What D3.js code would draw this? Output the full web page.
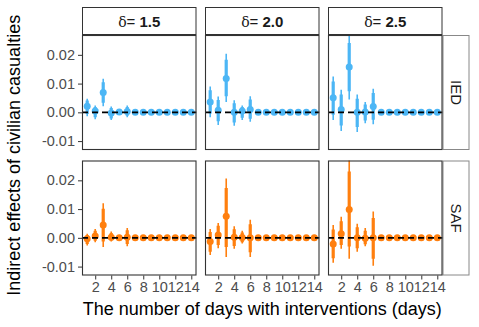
<!DOCTYPE html>
<html><head><meta charset="utf-8">
<script src="https://cdn.jsdelivr.net/npm/d3@7"></script>
<style>body{margin:0;background:#fff}svg{display:block;font-family:"Liberation Sans",Arial,sans-serif}</style>
</head><body><svg id="c" width="479" height="327"></svg>
<script>
const days = [1,2,3,4,5,6,7,8,9,10,11,12,13,14];
const deltas = ["1.5","2.0","2.5"];
const types = ["IED","SAF"];
const xTicks = [2,4,6,8,10,12,14];
const yTicks = [-0.01,0,0.01,0.02];
const yTickLabels = ["-0.01","0.00","0.01","0.02"];
const colors = {IED:"#4CB6F5", SAF:"#FF7F0E"};

// IED
const ied15Est = [0.0021,0.0005,0.0069,-0.0002,0.0001,0.0003,0,0,0,0,0,0,0,0];
const ied15Hi  = [0.0047,0.0024,0.0117,0.0020,0.0010,0.0024,0.0004,0.0004,0.0004,0.0004,0.0004,0.0004,0.0004,0.0004];
const ied15Lo  = [-0.0014,-0.0024,0.0021,-0.0027,-0.0008,-0.0017,-0.0004,-0.0004,-0.0004,-0.0004,-0.0004,-0.0004,-0.0004,-0.0004];
const ied15IHi = [0.0041,0.0019,0.0105,0.0015,0.0008,0.0019,0.0003,0.0003,0.0003,0.0003,0.0003,0.0003,0.0003,0.0003];
const ied15ILo = [-0.0006,-0.0017,0.0033,-0.0021,-0.0006,-0.0012,-0.0003,-0.0003,-0.0003,-0.0003,-0.0003,-0.0003,-0.0003,-0.0003];

const ied20Est = [0.0036,0.0007,0.0118,0.0000,0.0005,0.0010,0,0,0,0,0,0,0,0];
const ied20Hi  = [0.0090,0.0055,0.0204,0.0042,0.0024,0.0056,0.0004,0.0004,0.0004,0.0004,0.0004,0.0004,0.0004,0.0004];
const ied20Lo  = [-0.0017,-0.0044,0.0036,-0.0047,-0.0027,-0.0033,-0.0004,-0.0004,-0.0004,-0.0004,-0.0004,-0.0004,-0.0004,-0.0004];
const ied20IHi = [0.0077,0.0043,0.0183,0.0032,0.0019,0.0045,0.0003,0.0003,0.0003,0.0003,0.0003,0.0003,0.0003,0.0003];
const ied20ILo = [-0.0004,-0.0031,0.0056,-0.0035,-0.0019,-0.0022,-0.0003,-0.0003,-0.0003,-0.0003,-0.0003,-0.0003,-0.0003,-0.0003];

const ied25Est = [0.0051,0.0010,0.0158,0.0000,0.0001,0.0020,0,0,0,0,0,0,0,0];
const ied25Hi  = [0.0125,0.0079,0.0269,0.0062,0.0036,0.0082,0.0004,0.0004,0.0004,0.0004,0.0004,0.0004,0.0004,0.0004];
const ied25Lo  = [-0.0027,-0.0065,0.0045,-0.0068,-0.0038,-0.0041,-0.0004,-0.0004,-0.0004,-0.0004,-0.0004,-0.0004,-0.0004,-0.0004];
const ied25IHi = [0.0107,0.0062,0.0241,0.0047,0.0027,0.0067,0.0003,0.0003,0.0003,0.0003,0.0003,0.0003,0.0003,0.0003];
const ied25ILo = [-0.0008,-0.0046,0.0073,-0.0051,-0.0028,-0.0026,-0.0003,-0.0003,-0.0003,-0.0003,-0.0003,-0.0003,-0.0003,-0.0003];

// SAF
const saf15Est = [-0.0003,0.0006,0.0045,0.0002,0.0000,0.0002,0,0,0,0,0,0,0,0];
const saf15Hi  = [0.0014,0.0031,0.0120,0.0022,0.0006,0.0034,0.0004,0.0004,0.0004,0.0004,0.0004,0.0004,0.0004,0.0004];
const saf15Lo  = [-0.0027,-0.0015,-0.0032,-0.0013,-0.0006,-0.0029,-0.0004,-0.0004,-0.0004,-0.0004,-0.0004,-0.0004,-0.0004,-0.0004];
const saf15IHi = [0.0010,0.0025,0.0101,0.0017,0.0004,0.0026,0.0003,0.0003,0.0003,0.0003,0.0003,0.0003,0.0003,0.0003];
const saf15ILo = [-0.0021,-0.0010,-0.0013,-0.0009,-0.0004,-0.0021,-0.0003,-0.0003,-0.0003,-0.0003,-0.0003,-0.0003,-0.0003,-0.0003];

const saf20Est = [-0.0013,0.0010,0.0075,0.0002,0.0001,0.0000,0,0,0,0,0,0,0,0];
const saf20Hi  = [0.0031,0.0052,0.0206,0.0040,0.0025,0.0063,0.0004,0.0004,0.0004,0.0004,0.0004,0.0004,0.0004,0.0004];
const saf20Lo  = [-0.0060,-0.0036,-0.0067,-0.0038,-0.0020,-0.0067,-0.0004,-0.0004,-0.0004,-0.0004,-0.0004,-0.0004,-0.0004,-0.0004];
const saf20IHi = [0.0020,0.0042,0.0173,0.0030,0.0019,0.0047,0.0003,0.0003,0.0003,0.0003,0.0003,0.0003,0.0003,0.0003];
const saf20ILo = [-0.0048,-0.0025,-0.0032,-0.0028,-0.0015,-0.0050,-0.0003,-0.0003,-0.0003,-0.0003,-0.0003,-0.0003,-0.0003,-0.0003];

const saf25Est = [-0.0021,0.0014,0.0099,0.0000,-0.0001,0.0000,0,0,0,0,0,0,0,0];
const saf25Hi  = [0.0045,0.0073,0.0275,0.0049,0.0034,0.0092,0.0004,0.0004,0.0004,0.0004,0.0004,0.0004,0.0004,0.0004];
const saf25Lo  = [-0.0087,-0.0038,-0.0073,-0.0048,-0.0029,-0.0097,-0.0004,-0.0004,-0.0004,-0.0004,-0.0004,-0.0004,-0.0004,-0.0004];
const saf25IHi = [0.0029,0.0058,0.0231,0.0037,0.0025,0.0069,0.0003,0.0003,0.0003,0.0003,0.0003,0.0003,0.0003,0.0003];
const saf25ILo = [-0.0071,-0.0025,-0.0030,-0.0036,-0.0022,-0.0073,-0.0003,-0.0003,-0.0003,-0.0003,-0.0003,-0.0003,-0.0003,-0.0003];

const series = {
  IED: [[ied15Est,ied15Lo,ied15Hi,ied15ILo,ied15IHi],[ied20Est,ied20Lo,ied20Hi,ied20ILo,ied20IHi],[ied25Est,ied25Lo,ied25Hi,ied25ILo,ied25IHi]],
  SAF: [[saf15Est,saf15Lo,saf15Hi,saf15ILo,saf15IHi],[saf20Est,saf20Lo,saf20Hi,saf20ILo,saf20IHi],[saf25Est,saf25Lo,saf25Hi,saf25ILo,saf25IHi]]
};

const svg = d3.select("#c");
const colX = [82, 205, 328];
const pw = 114.5;
const rowY = [35, 160.5];
const ph = 115;
const stripTop = 7;
const rightStripW = 27;
const tickFont = 14.5;

const x = d3.scaleLinear().domain([0.35,14.65]).range([0,pw]);
const y = d3.scaleLinear().domain([-0.0131,0.0269]).range([ph,0]);

// top strips
deltas.forEach((d,j)=>{
  const g = svg.append("g").attr("transform",`translate(${colX[j]},${stripTop})`);
  g.append("rect").attr("x",0.5).attr("y",0.5).attr("width",pw-1).attr("height",rowY[0]-stripTop-1)
    .attr("fill","#fff").attr("stroke","#333").attr("stroke-width",1);
  const t = g.append("text").attr("x",pw/2).attr("y",(rowY[0]-stripTop)/2+5.5).attr("text-anchor","middle")
    .attr("font-size",15).attr("fill","#1a1a1a");
  t.append("tspan").attr("font-family","'DejaVu Serif',serif").attr("font-size",14).text("δ");
  t.append("tspan").text("= ");
  t.append("tspan").attr("font-weight","bold").text(d);
});

types.forEach((tp,i)=>{
  // right strip
  const rs = svg.append("g").attr("transform",`translate(${colX[2]+pw},${rowY[i]})`);
  rs.append("rect").attr("x",0.5).attr("y",0.5).attr("width",rightStripW-1).attr("height",ph-1)
    .attr("fill","#fff").attr("stroke","#888").attr("stroke-width",1);
  rs.append("text").attr("transform",`translate(${rightStripW/2-5.5},${ph/2}) rotate(90)`)
    .attr("text-anchor","middle").attr("font-size",15).attr("fill","#1a1a1a").text(tp);

  deltas.forEach((d,j)=>{
    const g = svg.append("g").attr("transform",`translate(${colX[j]},${rowY[i]})`);
    const clipId = `clip${i}${j}`;
    g.append("clipPath").attr("id",clipId).append("rect").attr("width",pw).attr("height",ph);
    const [est,lo,hi,ilo,ihi] = series[tp][j];
    const col = colors[tp];
    const pg = g.append("g").attr("clip-path",`url(#${clipId})`);
    pg.selectAll("line.thin").data(days).join("line").attr("class","thin")
      .attr("x1",(dd)=>x(dd)).attr("x2",(dd)=>x(dd))
      .attr("y1",(dd,k)=>y(lo[k])).attr("y2",(dd,k)=>y(hi[k]))
      .attr("stroke",col).attr("stroke-width",1.6);
    pg.selectAll("line.thick").data(days).join("line").attr("class","thick")
      .attr("x1",(dd)=>x(dd)).attr("x2",(dd)=>x(dd))
      .attr("y1",(dd,k)=>y(ilo[k])).attr("y2",(dd,k)=>y(ihi[k]))
      .attr("stroke",col).attr("stroke-width",3.2);
    pg.selectAll("circle").data(days).join("circle")
      .attr("cx",(dd)=>x(dd)).attr("cy",(dd,k)=>y(est[k])).attr("r",3.5).attr("fill",col);
    pg.append("line").attr("x1",0).attr("x2",pw).attr("y1",y(0)).attr("y2",y(0))
      .attr("stroke","#000").attr("stroke-width",1.6).attr("stroke-dasharray","6,4");
    g.append("rect").attr("x",0.5).attr("y",0.5).attr("width",pw-1).attr("height",ph-1)
      .attr("fill","none").attr("stroke","#333").attr("stroke-width",1.1);

    if (j===0) {
      const ax = g.append("g").call(d3.axisLeft(y).tickValues(yTicks).tickSize(4).tickPadding(3)
        .tickFormat((v,k)=>yTickLabels[k]));
      ax.select(".domain").remove();
      ax.selectAll("line").attr("stroke","#333");
      ax.selectAll("text").attr("font-size",tickFont).attr("fill","#4d4d4d").attr("font-family","'Liberation Sans',Arial,sans-serif");
    }
    if (i===1) {
      const ax = g.append("g").attr("transform",`translate(0,${ph})`)
        .call(d3.axisBottom(x).tickValues(xTicks).tickSize(4).tickPadding(2).tickFormat(d3.format("d")));
      ax.select(".domain").remove();
      ax.selectAll("line").attr("stroke","#333");
      ax.selectAll("text").attr("font-size",tickFont).attr("fill","#4d4d4d").attr("font-family","'Liberation Sans',Arial,sans-serif");
    }
  });
});

svg.append("text").attr("x",(colX[0]+colX[2]+pw)/2).attr("y",315).attr("text-anchor","middle")
  .attr("font-size",18).attr("fill","#000").text("The number of days with interventions (days)");
svg.append("text").attr("transform",`translate(20,${(rowY[0]+rowY[1]+ph)/2}) rotate(-90)`)
  .attr("text-anchor","middle").attr("font-size",18).attr("fill","#000").text("Indirect effects of civilian casualties");
</script></body></html>
